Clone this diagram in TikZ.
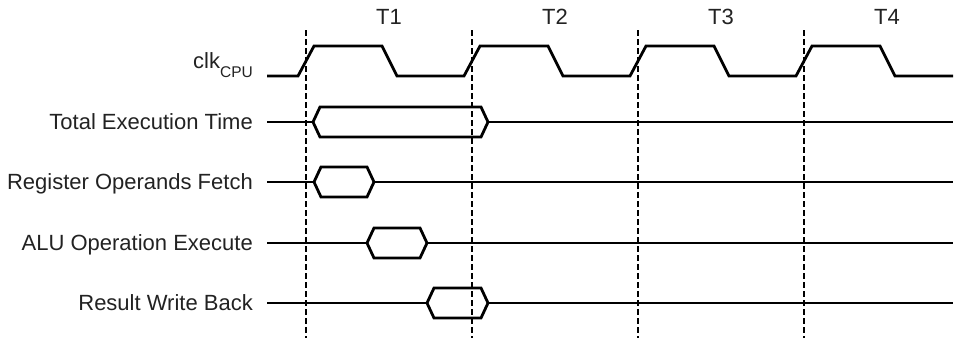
\documentclass[tikz,border=0pt]{standalone}
\usepackage{fontspec}
\setmainfont{Liberation Sans}
\definecolor{txt}{HTML}{222222}
\tikzset{
  lbl/.style={anchor=base east, inner sep=0pt, text=txt, font=\fontsize{22}{24}\selectfont},
  tlbl/.style={anchor=center, inner sep=0pt, text=txt, font=\fontsize{22}{24}\selectfont},
  wave/.style={line width=2.8pt, line join=miter, black},
  grid/.style={line width=1.2pt, dash pattern=on 6pt off 3pt, black},
}
\begin{document}
\begin{tikzpicture}[x=1pt,y=-1pt]
\useasboundingbox (0,0) rectangle (955,340);
% dashed cycle boundaries
\foreach \i/\x in {1/306,2/472,3/638,4/804}{
  \coordinate (dt\i) at (\x,30);
  \coordinate (db\i) at (\x,338);
  \draw[grid] (dt\i) -- (db\i);
}
% period labels
\node[tlbl] (T1) at (389,17) {T1};
\node[tlbl] (T2) at (555,17) {T2};
\node[tlbl] (T3) at (721,17) {T3};
\node[tlbl] (T4) at (887,17) {T4};
% row labels
\node[lbl] (lclk) at (253,68) {clk\raisebox{-9pt}{\fontsize{15.5}{16}\selectfont CPU}};
\node[lbl] (ltot) at (253,129.5) {Total Execution Time};
\node[lbl] (lreg) at (253,189.5) {Register Operands Fetch};
\node[lbl] (lalu) at (253,250.5) {ALU Operation Execute};
\node[lbl] (lres) at (253,310.5) {Result Write Back};
% clock
\draw[wave] (267,76)
  \foreach \k in {0,1,2,3}{
    -- ({298+166*\k},76) -- ({314+166*\k},46) -- ({382+166*\k},46) -- ({397+166*\k},76)
  } -- (953,76);
% bus rows: y, left tip, right tip
\foreach \y/\a/\b in {122/313/488, 182/314/374, 243/367/427, 303/427/488}{
  \draw[wave] (267,\y) -- (\a,\y);
  \draw[wave] (\a,\y) -- (\a+7,\y-15) -- (\b-7,\y-15) -- (\b,\y) -- (\b-7,\y+15) -- (\a+7,\y+15) -- cycle;
  \draw[wave] (\b,\y) -- (953,\y);
}
\end{tikzpicture}
\end{document}
